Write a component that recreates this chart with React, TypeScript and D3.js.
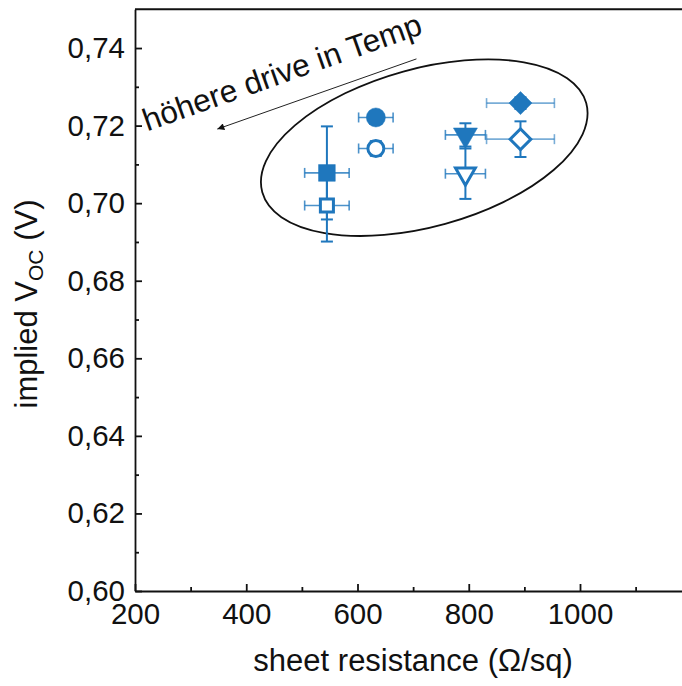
import React, { useEffect, useRef } from "react";
import * as d3 from "d3";

// sheet resistance (Ohm/sq) and implied Voc (V) per sample, filled/open pairs
const sheetRes = [545, 545, 633, 633, 794, 794, 893, 893];
const sheetResErr = [40, 40, 31, 31, 36, 36, 61, 61];
const impliedVoc = [0.7078, 0.6994, 0.7221, 0.7141, 0.7176, 0.7076, 0.7258, 0.7165];
const impliedVocErr = [0.012, 0.0093, 0.0015, 0.0019, 0.003, 0.0065, 0.0015, 0.0046];
const shapes = ["square", "square", "circle", "circle", "triangle", "triangle", "diamond", "diamond"];
const filled = [true, false, true, false, true, false, true, false];

const xMajor = [200, 400, 600, 800, 1000];
const xMinor = [300, 500, 700, 900, 1100];
const yMajor = [0.6, 0.62, 0.64, 0.66, 0.68, 0.7, 0.72, 0.74];
const yMinor = [0.61, 0.63, 0.65, 0.67, 0.69, 0.71, 0.73];

// annotation (data units)
const ellipseCenter = [720, 0.7143];
const arrowFrom = [706, 0.7372];
const arrowTo = [348, 0.7191];
const noteStart = [222, 0.7185];
const noteText = "höhere drive in Temp";

const W = 682,
  H = 686;
const FONT = "'Liberation Sans', Arial, sans-serif";
const BLUE = "#1f77bd";

export default function App() {
  const ref = useRef<SVGSVGElement>(null);

  useEffect(() => {
    const svg = d3.select(ref.current);
    svg.selectAll("*").remove();

    const x = d3.scaleLinear().domain([200, 1200]).range([135, 691.25]);
    const y = d3.scaleLinear().domain([0.6, 0.75]).range([591, 9.25]);

    const defs = svg.append("defs");
    defs
      .append("marker")
      .attr("id", "arrowhead")
      .attr("viewBox", "0 0 10 10")
      .attr("refX", 10)
      .attr("refY", 5)
      .attr("markerWidth", 12)
      .attr("markerHeight", 7)
      .attr("markerUnits", "userSpaceOnUse")
      .attr("orient", "auto")
      .append("path")
      .attr("d", "M0,0 L10,5 L0,10 Z")
      .attr("fill", "#111");

    svg.append("rect").attr("width", W).attr("height", H).attr("fill", "#fff");

    var fmt = (d: number) => d3.format(".2f")(d).replace(".", ",");

    // x axis
    var gx = svg.append("g").attr("transform", `translate(0, ${y(0.6)})`);
    gx.call(
      d3.axisBottom(x).tickValues(xMajor).tickSize(-7).tickSizeOuter(0).tickPadding(12).tickFormat((d) => String(d))
    );
    var gx2 = svg.append("g").attr("transform", `translate(0, ${y(0.6)})`);
    gx2.call(d3.axisBottom(x).tickValues(xMinor).tickSize(-4).tickSizeOuter(0).tickFormat(() => ""));
    gx2.select(".domain").remove();

    // y axis
    var gy = svg.append("g").attr("transform", `translate(${x(200)}, 0)`);
    gy.call(d3.axisLeft(y).tickValues(yMajor).tickSize(-7).tickSizeOuter(0).tickPadding(10).tickFormat((d) => fmt(+d)));
    var gy2 = svg.append("g").attr("transform", `translate(${x(200)}, 0)`);
    gy2.call(d3.axisLeft(y).tickValues(yMinor).tickSize(-4).tickSizeOuter(0).tickFormat(() => ""));
    gy2.select(".domain").remove();

    svg.selectAll(".domain, .tick line").attr("stroke", "#111").attr("stroke-width", 1.8);
    svg
      .selectAll(".tick text")
      .attr("font-family", FONT)
      .attr("font-size", 29.5)
      .attr("fill", "#111");

    // top spine
    svg
      .append("line")
      .attr("x1", x(200))
      .attr("x2", x(1200))
      .attr("y1", y(0.75))
      .attr("y2", y(0.75))
      .attr("stroke", "#111")
      .attr("stroke-width", 1.8);

    // axis titles
    svg
      .append("text")
      .attr("x", (x(200) + x(1200)) / 2)
      .attr("y", 671)
      .attr("text-anchor", "middle")
      .attr("font-family", FONT)
      .attr("font-size", 31)
      .attr("fill", "#111")
      .text("sheet resistance (Ω/sq)");

    var yt = svg
      .append("text")
      .attr("transform", "translate(37, 304) rotate(-90)")
      .attr("text-anchor", "middle")
      .attr("font-family", FONT)
      .attr("font-size", 31)
      .attr("fill", "#111");
    yt.append("tspan").text("implied V");
    yt.append("tspan").attr("font-size", 21).attr("dy", 6).text("OC");
    yt.append("tspan").attr("dy", -6).text(" (V)");

    // ellipse
    svg
      .append("ellipse")
      .attr("cx", 0)
      .attr("cy", 0)
      .attr("rx", 168)
      .attr("ry", 79)
      .attr("transform", `translate(${x(ellipseCenter[0])}, ${y(ellipseCenter[1])}) rotate(-15.4)`)
      .attr("fill", "none")
      .attr("stroke", "#111")
      .attr("stroke-width", 1.8);

    // arrow + note
    svg
      .append("line")
      .attr("x1", x(arrowFrom[0]))
      .attr("y1", y(arrowFrom[1]))
      .attr("x2", x(arrowTo[0]))
      .attr("y2", y(arrowTo[1]))
      .attr("stroke", "#222")
      .attr("stroke-width", 1)
      .attr("marker-end", "url(#arrowhead)");

    svg
      .append("text")
      .attr("transform", `translate(${x(noteStart[0])}, ${y(noteStart[1])}) rotate(-19.5)`)
      .attr("font-family", FONT)
      .attr("font-size", 31.5)
      .attr("fill", "#111")
      .text(noteText);

    var data = sheetRes.map((r, i) => ({
      r: r,
      rErr: sheetResErr[i],
      v: impliedVoc[i],
      vErr: impliedVocErr[i],
      shape: shapes[i],
      filled: filled[i],
    }));

    // error bars
    var eb = svg.append("g").attr("stroke", BLUE).attr("fill", "none");
    data.forEach((d) => {
      var cx = x(d.r),
        cy = y(d.v);
      var x0 = x(d.r - d.rErr),
        x1 = x(d.r + d.rErr);
      var y0 = y(d.v - d.vErr),
        y1 = y(d.v + d.vErr);
      var h = eb
        .append("g")
        .attr("stroke-width", 1.6)
        .attr("stroke-opacity", d.shape === "diamond" ? 0.6 : 0.8);
      h.append("line").attr("x1", x0).attr("x2", x1).attr("y1", cy).attr("y2", cy);
      h.append("line").attr("x1", x0).attr("x2", x0).attr("y1", cy - 5).attr("y2", cy + 5);
      h.append("line").attr("x1", x1).attr("x2", x1).attr("y1", cy - 5).attr("y2", cy + 5);
      var v = eb.append("g").attr("stroke-width", 2);
      v.append("line").attr("x1", cx).attr("x2", cx).attr("y1", y0).attr("y2", y1);
      v.append("line").attr("x1", cx - 6).attr("x2", cx + 6).attr("y1", y0).attr("y2", y0);
      v.append("line").attr("x1", cx - 6).attr("x2", cx + 6).attr("y1", y1).attr("y2", y1);
    });

    // markers
    var symFor = (d: any) => {
      var open = !d.filled;
      if (d.shape === "square") return d3.symbol(d3.symbolSquare, open ? 170 : 280)();
      if (d.shape === "circle") return d3.symbol(d3.symbolCircle, open ? 200 : 285)();
      if (d.shape === "triangle") return d3.symbol(d3.symbolTriangle, open ? 170 : 250)();
      return d3.symbol(d3.symbolSquare, open ? 215 : 265)();
    };
    var rotFor = (d: any) => (d.shape === "triangle" ? 180 : d.shape === "diamond" ? 45 : 0);

    svg
      .append("g")
      .selectAll("path")
      .data(data)
      .join("path")
      .attr("d", (d) => symFor(d))
      .attr("transform", (d) => `translate(${x(d.r)}, ${y(d.v)}) rotate(${rotFor(d)})`)
      .attr("fill", (d) => (d.filled ? BLUE : "#fff"))
      .attr("stroke", BLUE)
      .attr("stroke-width", (d) => (d.filled ? 0.5 : 3))
      .attr("stroke-linejoin", "miter");
  }, []);

  return (
    <svg
      ref={ref}
      width={W}
      height={H}
      style={{ position: "absolute", left: 0, top: 0, display: "block" }}
    ></svg>
  );
}
